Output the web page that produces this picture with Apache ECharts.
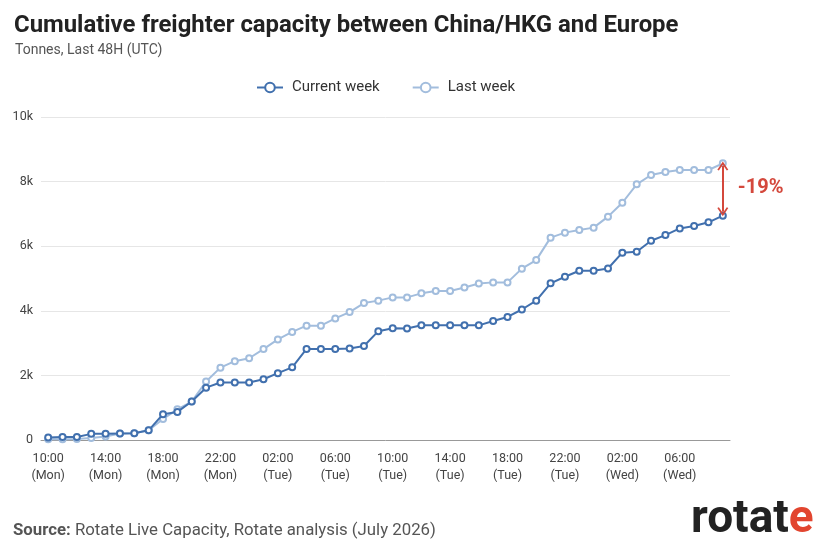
<!DOCTYPE html>
<html>
<head>
<meta charset="utf-8">
<script src="https://cdn.jsdelivr.net/npm/echarts@6/dist/echarts.min.js"></script>
<style>
html,body{margin:0;padding:0;background:#fff;}
#chart{width:830px;height:545px;}
</style>
</head>
<body>
<div id="chart"></div>
<script>
const categories = [
 "10:00 (Mon)","11:00 (Mon)","12:00 (Mon)","13:00 (Mon)","14:00 (Mon)","15:00 (Mon)","16:00 (Mon)","17:00 (Mon)",
 "18:00 (Mon)","19:00 (Mon)","20:00 (Mon)","21:00 (Mon)","22:00 (Mon)","23:00 (Mon)","00:00 (Tue)","01:00 (Tue)",
 "02:00 (Tue)","03:00 (Tue)","04:00 (Tue)","05:00 (Tue)","06:00 (Tue)","07:00 (Tue)","08:00 (Tue)","09:00 (Tue)",
 "10:00 (Tue)","11:00 (Tue)","12:00 (Tue)","13:00 (Tue)","14:00 (Tue)","15:00 (Tue)","16:00 (Tue)","17:00 (Tue)",
 "18:00 (Tue)","19:00 (Tue)","20:00 (Tue)","21:00 (Tue)","22:00 (Tue)","23:00 (Tue)","00:00 (Wed)","01:00 (Wed)",
 "02:00 (Wed)","03:00 (Wed)","04:00 (Wed)","05:00 (Wed)","06:00 (Wed)","07:00 (Wed)","08:00 (Wed)","09:00 (Wed)"
];
const currentWeek = [
 80, 90, 90, 190, 190, 200, 210, 300,
 800, 870, 1190, 1620, 1780, 1780, 1780, 1880,
 2070, 2250, 2820, 2820, 2820, 2830, 2910, 3370,
 3460, 3450, 3550, 3550, 3550, 3550, 3550, 3685,
 3810, 4040, 4315, 4850, 5055, 5240, 5240, 5310,
 5800, 5830, 6170, 6345, 6550, 6625, 6740, 6945
];
const lastWeek = [
 20, 20, 30, 60, 110, 200, 210, 300,
 650, 950, 1190, 1810, 2240, 2440, 2530, 2815,
 3115, 3345, 3540, 3540, 3765, 3960, 4240, 4315,
 4415, 4415, 4540, 4615, 4615, 4720, 4845, 4880,
 4880, 5305, 5570, 6265, 6420, 6500, 6575, 6915,
 7345, 7915, 8205, 8300, 8360, 8360, 8360, 8565
];
const yTickValues = [0, 2000, 4000, 6000, 8000, 10000];
const yTickLabels = ["0", "2k", "4k", "6k", "8k", "10k"];
const seriesNames = ["Current week", "Last week"];

const darkBlue = "#4170ae";
const lightBlue = "#a2bddd";
const red = "#d4483c";

const lastIdx = currentWeek.length - 1;
const pct = Math.round((currentWeek[lastIdx] / lastWeek[lastIdx] - 1) * 100);

const chart = echarts.init(document.getElementById("chart"));
const chevron = "path://M0,10 L5,0 L10,10 L8.6,10.8 L5,4 L1.4,10.8 Z";

chart.setOption({
  animation: false,
  backgroundColor: "#fff",
  textStyle: { fontFamily: "Roboto, 'Liberation Sans', sans-serif" },
  title: [
    {
      text: "Cumulative freighter capacity between China/HKG and Europe",
      left: 14, top: 14, padding: 0,
      textStyle: { fontSize: 23.9, fontWeight: "bold", color: "#222", fontFamily: "Roboto" }
    },
    {
      text: "Tonnes, Last 48H (UTC)",
      left: 15, top: 43, padding: 0,
      textStyle: { fontSize: 14, fontWeight: "normal", color: "#555", fontFamily: "Roboto" }
    }
  ],
  legend: {
    top: 75,
    left: 251,
    itemWidth: 26,
    itemHeight: 12,
    itemGap: 32,
    textStyle: { fontSize: 15, color: "#333", fontFamily: "Roboto", padding: [0, 0, 0, 4] },
    data: seriesNames
  },
  grid: { left: 41, right: 100, top: 117, bottom: 105 },
  xAxis: {
    type: "category",
    data: categories,
    boundaryGap: true,
    axisLine: { lineStyle: { color: "#999", width: 1 } },
    axisTick: { interval: 3, length: 5, lineStyle: { color: "#999" } },
    axisLabel: {
      interval: 3,
      color: "#444",
      fontSize: 12.5,
      lineHeight: 17,
      margin: 10,
      formatter: v => v.replace(" ", "\n")
    },
    splitLine: { show: false }
  },
  yAxis: {
    type: "value",
    min: yTickValues[0],
    max: yTickValues[yTickValues.length - 1],
    interval: yTickValues[1] - yTickValues[0],
    axisLine: { show: false },
    axisTick: { show: false },
    axisLabel: {
      color: "#444", fontSize: 12.5, margin: 8,
      formatter: v => yTickLabels[yTickValues.indexOf(v)]
    },
    splitLine: { lineStyle: { color: "#e6e6e6", width: 1 } }
  },
  series: [
    {
      name: seriesNames[1],
      type: "line",
      data: lastWeek,
      symbol: "emptyCircle",
      symbolSize: 6,
      lineStyle: { color: lightBlue, width: 2 },
      itemStyle: { color: lightBlue, borderWidth: 1.5 },
      z: 2
    },
    {
      name: seriesNames[0],
      type: "line",
      data: currentWeek,
      symbol: "emptyCircle",
      symbolSize: 6,
      lineStyle: { color: darkBlue, width: 2 },
      itemStyle: { color: darkBlue, borderWidth: 1.5 },
      z: 3,
      markLine: {
        silent: true,
        symbol: [chevron, chevron],
        symbolSize: [11, 9],
        lineStyle: { color: red, width: 2, type: "solid" },
        label: { show: false },
        data: [[
          { coord: [lastIdx, lastWeek[lastIdx] - 80] },
          { coord: [lastIdx, currentWeek[lastIdx] + 120] }
        ]]
      }
    }
  ]
});

const midVal = (lastWeek[lastIdx] + currentWeek[lastIdx]) / 2;
const p = chart.convertToPixel({ gridIndex: 0 }, [lastIdx, midVal]);

chart.setOption({
  graphic: [
    {
      type: "text",
      left: p[0] + 15,
      top: p[1] - 12,
      style: { text: pct + "%", fill: red, font: "bold 20px Roboto" }
    },
    {
      type: "text",
      left: 13,
      top: 522,
      style: {
        text: "{b|Source:} Rotate Live Capacity, Rotate analysis (July 2026)",
        rich: {
          b: { fontFamily: "Roboto", fontSize: 16.8, fontWeight: "bold", fill: "#555" }
        },
        fontFamily: "Roboto", fontSize: 16.8, fill: "#555"
      }
    },
    {
      type: "text",
      left: 691,
      top: 497,
      style: {
        text: "rotat{e|e}",
        rich: { e: { fontFamily: "Roboto", fontSize: 46, fontWeight: "bold", fill: "#e2452f" } },
        fontFamily: "Roboto", fontSize: 46, fontWeight: "bold", fill: "#222"
      }
    }
  ]
});
</script>
</body>
</html>
